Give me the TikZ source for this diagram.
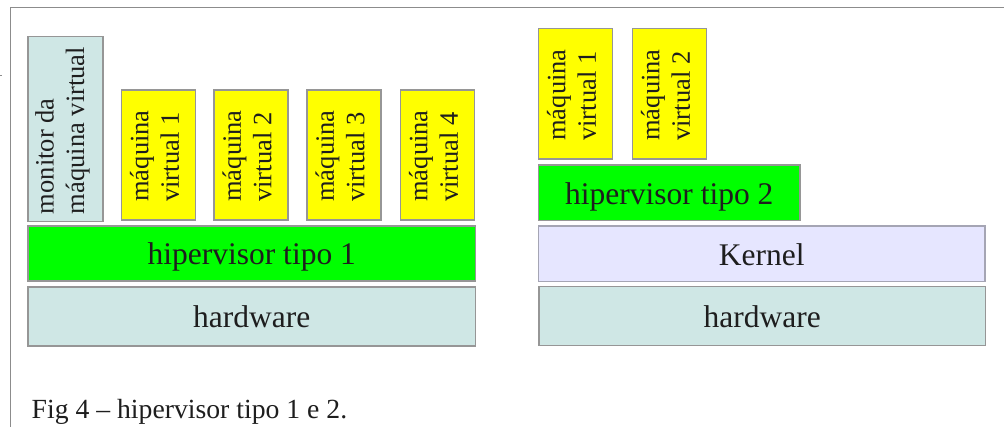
\documentclass[tikz,border=0pt]{standalone}
\usepackage{fontspec}
\setmainfont{Liberation Serif}
\definecolor{frameg}{RGB}{140,140,140}
\definecolor{boxg}{RGB}{150,150,150}
\definecolor{kerng}{RGB}{165,165,180}
\definecolor{turq}{RGB}{207,231,229}
\definecolor{lav}{RGB}{230,230,255}
\definecolor{vgreen}{RGB}{0,255,0}
\definecolor{vyellow}{RGB}{255,255,0}
\definecolor{txt}{RGB}{30,30,30}
\begin{document}
\begin{tikzpicture}[x=1pt,y=-1pt,
  box/.style={draw=boxg,line width=1.2pt,inner sep=0pt,text=txt},
  bigbox/.style={box,font=\fontsize{31.5}{36}\selectfont,text height=23pt,text depth=0pt},
  vmbox/.style={box,fill=vyellow,minimum width=74pt,minimum height=130pt},
  rottext/.style={rotate=90,align=left,inner sep=0pt,text=txt,
    font=\fontsize{26.5}{30.5}\selectfont},
]
\useasboundingbox (0,0) rectangle (1004,427);
\draw[frameg,line width=1.3pt] (10.5,427) -- (10.5,7.5) -- (1004,7.5);
\draw[frameg,line width=0.8pt] (0,75) -- (2,75);
% left stack
\node[box,fill=turq,minimum width=75pt,minimum height=185pt] (mon) at (65.5,129) {};
\node[rottext] (mont) at ([xshift=-3pt,yshift=-1.5pt]mon.center) {monitor da\\máquina virtual};
\node[vmbox] (vm1) at (158.5,155) {};
\node[vmbox] (vm2) at (251,155) {};
\node[vmbox] (vm3) at (344,155) {};
\node[vmbox] (vm4) at (437.5,155) {};
\foreach \n/\k in {vm1/1,vm2/2,vm3/3,vm4/4}
  \node[rottext] (\n t) at ([xshift=-4pt,yshift=-1pt]\n.center) {máquina\\virtual \k};
\node[bigbox,fill=vgreen,minimum width=447.5pt,minimum height=55pt] (hip1) at (251.75,253.5) {hipervisor tipo 1};
\node[bigbox,fill=turq,minimum width=447.5pt,minimum height=59pt] (hw1) at (251.75,316.5) {hardware};
% right stack
\node[vmbox,minimum height=130.5pt] (rvm1) at (575.5,93.75) {};
\node[vmbox,minimum height=130.5pt] (rvm2) at (669.5,93.75) {};
\node[rottext] (rvm1t) at ([xshift=-4pt,yshift=-1.25pt]rvm1.center) {máquina\\virtual 1};
\node[rottext] (rvm2t) at ([xshift=-4pt,yshift=-1.25pt]rvm2.center) {máquina\\virtual 2};
\node[bigbox,fill=vgreen,minimum width=261.5pt,minimum height=55.5pt] (hip2) at (669.25,192.75) {hipervisor tipo 2};
\node[bigbox,draw=kerng,fill=lav,minimum width=446.5pt,minimum height=55.5pt] (kern) at (761.75,253.75) {Kernel};
\node[bigbox,fill=turq,minimum width=446.5pt,minimum height=59pt] (hw2) at (762.25,316) {hardware};
% caption
\node[anchor=base west,inner sep=0pt,text=txt,font=\fontsize{27.7}{32}\selectfont] (cap) at (31.5,418.5) {Fig 4 – hipervisor tipo 1 e 2.};
\end{tikzpicture}
\end{document}
